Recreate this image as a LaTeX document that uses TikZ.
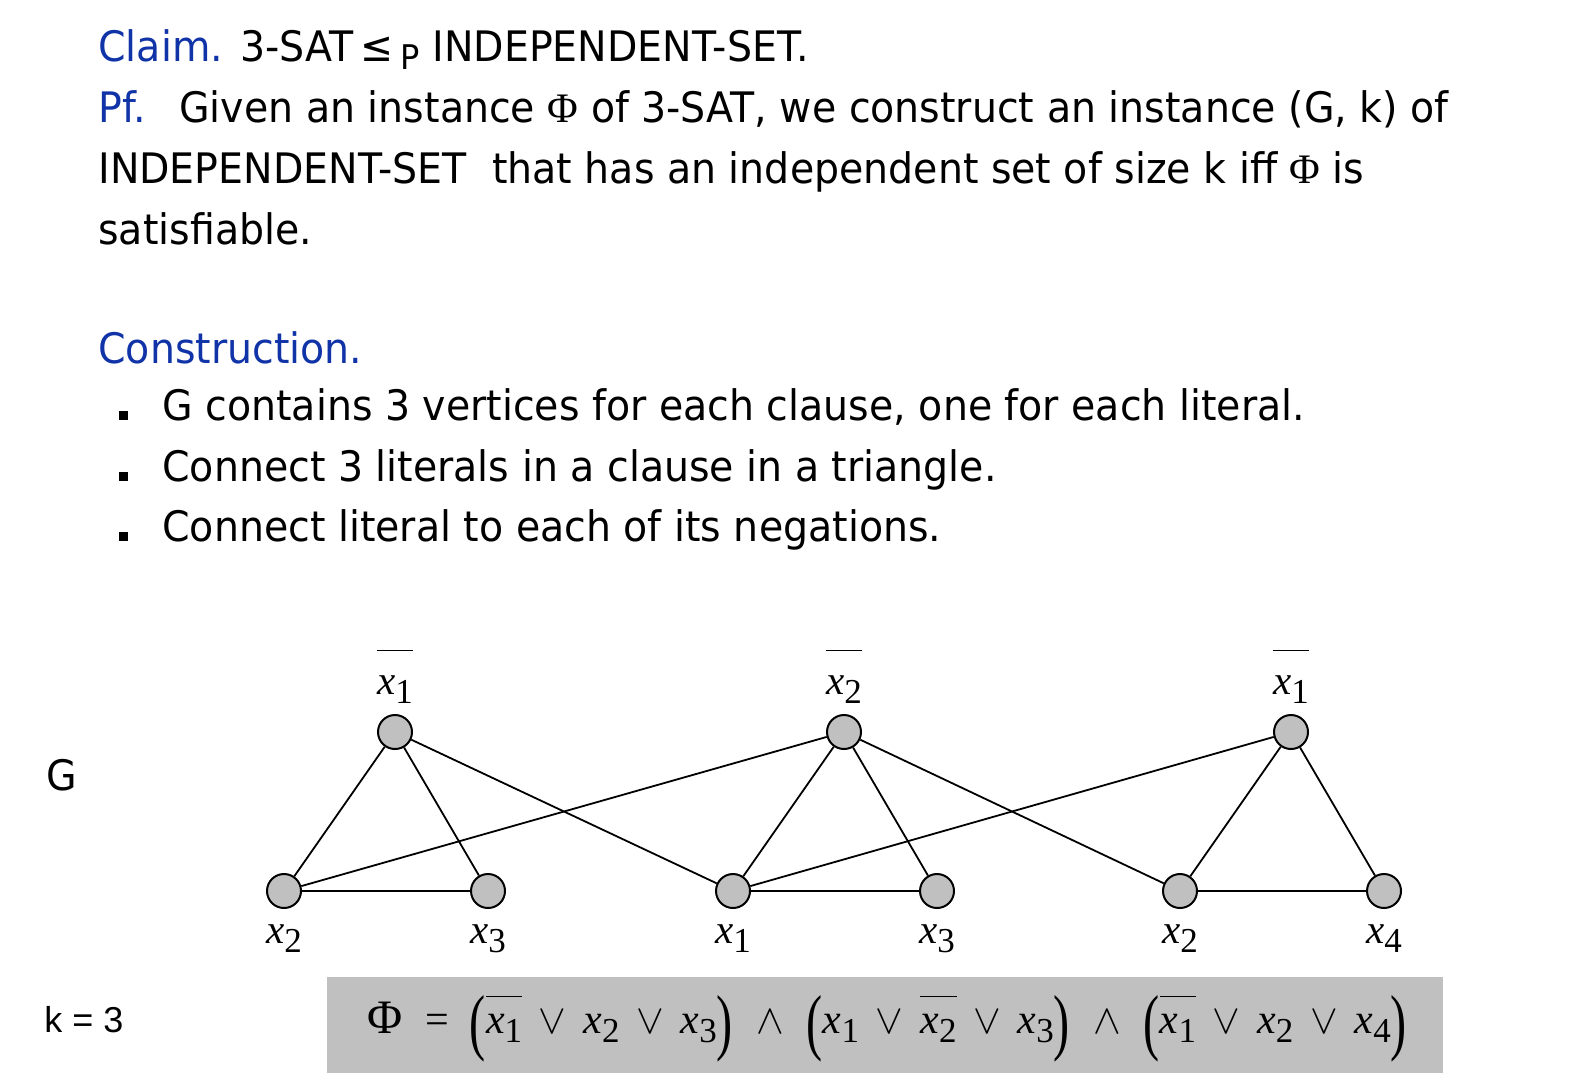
\documentclass[tikz,border=0pt]{standalone}
\usepackage{fontspec}
\setmainfont[FakeStretch=0.94]{DejaVu Sans}
\newfontfamily\tms{Liberation Serif}
\newfontfamily\arialk{Liberation Sans}
\usetikzlibrary{positioning}

\definecolor{claimblue}{RGB}{16,52,168}
\definecolor{vertexgray}{RGB}{192,192,192}

% literals in Times
\newcommand{\lit}[1]{{\tms\itshape x}\raisebox{-0.5ex}{\tms\fontsize{17.5}{17.5}\selectfont #1}}
\newcommand{\nlit}[1]{$\overline{\rule{0pt}{1.0em}\hbox{\lit{#1}}}$}
\newcommand{\flit}[1]{$\overline{\rule{0pt}{0.8em}\hbox{\lit{#1}}}$}
\newcommand{\orop}{\hspace{0.4em}$\vee$\hspace{0.4em}}
\newcommand{\andop}{\hspace{0.55em}$\wedge$\hspace{0.55em}}
\newcommand{\lpar}{\raisebox{-0.33em}{\scalebox{1.15}[1.75]{(}}}
\newcommand{\rpar}{\raisebox{-0.33em}{\scalebox{1.15}[1.75]{)}}}

\begin{document}
\begin{tikzpicture}[x=0.5pt, y=-0.5pt,
    txt/.style={anchor=base west, inner sep=0pt, font=\fontsize{21}{25}\selectfont},
    head/.style={txt, text=claimblue},
    vertex/.style={circle, draw, line width=1pt, fill=vertexgray, minimum size=17pt, inner sep=0pt},
    lab/.style={inner sep=0pt, anchor=base, font=\tms\fontsize{20.5}{20.5}\selectfont},
    edge/.style={line width=0.9pt},
    bulletsq/.style={rectangle, fill=black, minimum size=4.5pt, inner sep=0pt}]
    \useasboundingbox (0,0) rectangle (1594,1088);

    % Text above the graph
    \node[head] (claim) at (98,61) {Claim.};
    \node[txt] (claimtxt) at (240,61) {3-SAT\,≤\,\raisebox{-0.35ex}{\fontsize{17}{17}\selectfont P} INDEPENDENT-SET.};
    \node[head] (pf) at (98,122) {Pf.};
    \node[txt] (pftxt) at (179,122) {Given an instance {\tms Φ} of 3-SAT, we construct an instance (G, k) of};
    \node[txt] (line3) at (98,183) {INDEPENDENT-SET\ \ that has an independent set of size k iff {\tms Φ} is};
    \node[txt] (line4) at (98,244) {satisfiable.};
    \node[head] (constr) at (98,363) {Construction.};
    \node[txt] (item1) at (162,420) {G contains 3 vertices for each clause, one for each literal.};
    \node[txt] (item2) at (162,481) {Connect 3 literals in a clause in a triangle.};
    \node[txt] (item3) at (162,541) {Connect literal to each of its negations.};
    \foreach \i/\y in {1/415, 2/476, 3/536}
        \node[bulletsq] (bul\i) at (123,\y) {};

    % Vertices, one triangle per clause
    \node[vertex] (ta) at (395,732) {};
    \node[vertex] (la) at (284,891) {};
    \node[vertex] (ra) at (488,891) {};
    \node[vertex] (tb) at (844,732) {};
    \node[vertex] (lb) at (733,891) {};
    \node[vertex] (rb) at (937,891) {};
    \node[vertex] (tc) at (1291,732) {};
    \node[vertex] (lc) at (1180,891) {};
    \node[vertex] (rc) at (1384,891) {};

    % Labels
    \node[lab] (tal) at (395,694) {\nlit{1}};
    \node[lab] (tbl) at (844,694) {\nlit{2}};
    \node[lab] (tcl) at (1291,694) {\nlit{1}};
    \node[lab] (lal) at (284,943) {\lit{2}};
    \node[lab] (ral) at (488,943) {\lit{3}};
    \node[lab] (lbl) at (733,943) {\lit{1}};
    \node[lab] (rbl) at (937,943) {\lit{3}};
    \node[lab] (lcl) at (1180,943) {\lit{2}};
    \node[lab] (rcl) at (1384,943) {\lit{4}};

    % Triangles
    \foreach \c in {a,b,c}
        \draw[edge] (t\c) -- (l\c) -- (r\c) -- (t\c);
    % Literal to negation
    \draw[edge] (ta) -- (lb);
    \draw[edge] (tb) -- (la);
    \draw[edge] (tb) -- (lc);
    \draw[edge] (tc) -- (lb);

    \node[txt] (gname) at (46,790) {G};
    \node[anchor=base west, inner sep=0pt, font=\arialk\fontsize{18}{18}\selectfont] (kval) at (44,1032) {k = 3};

    % Formula
    \node[fill=vertexgray, minimum width=558pt, minimum height=48pt, inner sep=0pt] (phibox) at (885,1025) {};
    \node[anchor=base, inner sep=0pt, font=\tms\fontsize{21}{21}\selectfont] (phi) at (887,1033)
        {{\fontsize{24}{24}\selectfont Φ}\hspace{0.55em}=\hspace{0.5em}\lpar\flit{1}\orop\lit{2}\orop\lit{3}\rpar\andop
         \lpar\lit{1}\orop\flit{2}\orop\lit{3}\rpar\andop
         \lpar\flit{1}\orop\lit{2}\orop\lit{4}\rpar};
\end{tikzpicture}
\end{document}
